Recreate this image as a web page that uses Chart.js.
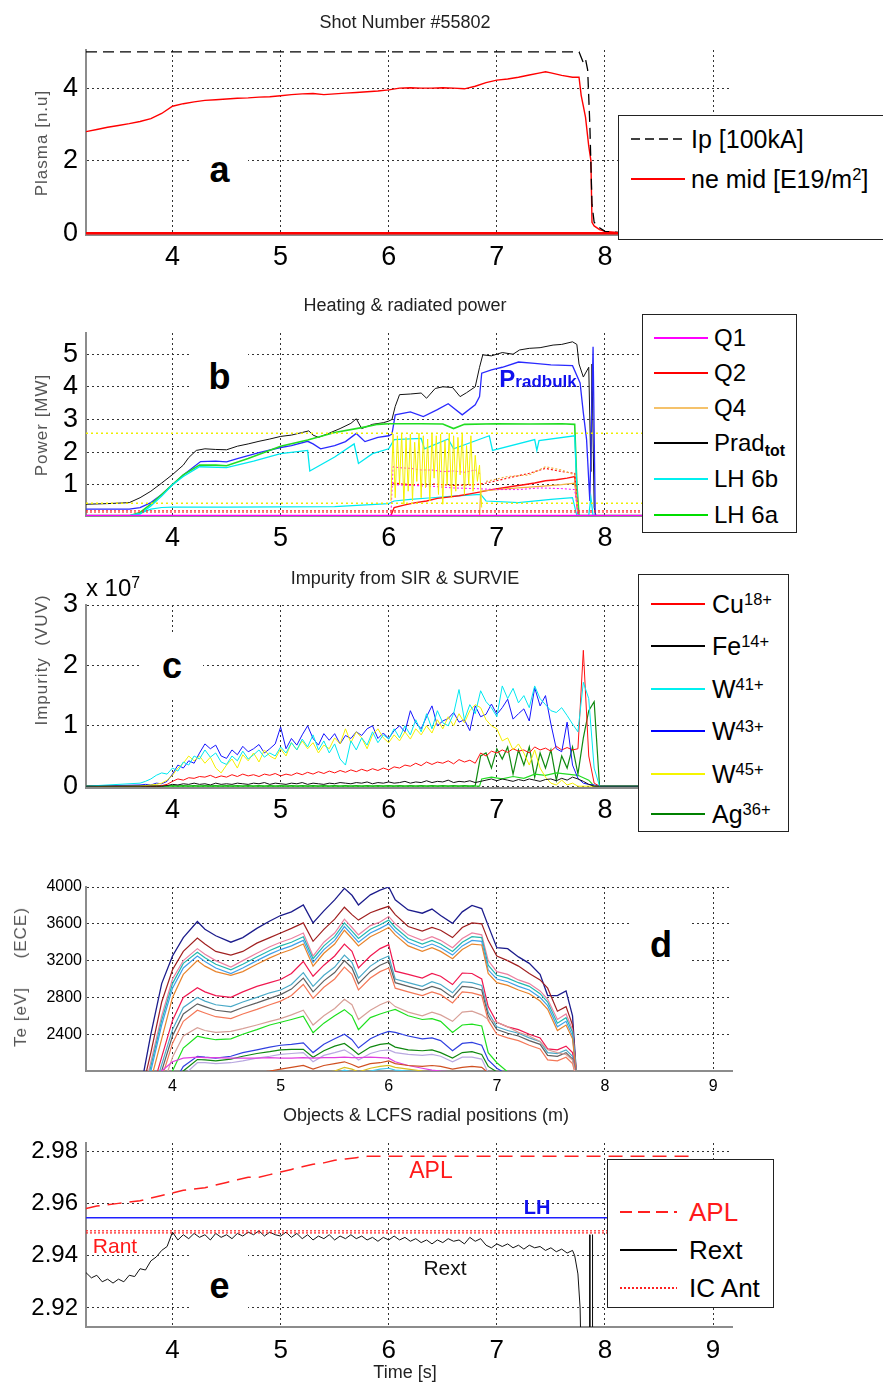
<!DOCTYPE html>
<html>
<head>
<meta charset="utf-8">
<title>Shot Number #55802</title>
<script src="https://cdn.jsdelivr.net/npm/chart.js@4.4.1/dist/chart.umd.min.js"></script>
<style>
  body { margin: 0; background: #fff; }
  #page { position: relative; width: 883px; height: 1385px; overflow: hidden; font-family: 'Liberation Sans', Arial, sans-serif; }
  #page canvas { position: absolute; left: 0; }
  .ttl { position: absolute; transform: translate(-50%, -50%); font-size: 18px; color: #222; white-space: nowrap; }
  .yt { position: absolute; transform: translate(-50%, -50%) rotate(-90deg); font-size: 17px; color: #555; letter-spacing: 1px; white-space: pre; }
  .ann { position: absolute; transform: translate(-50%, -50%); white-space: nowrap; line-height: 1; }
  .box { position: absolute; background: #fff; display: flex; align-items: center; justify-content: center; font-weight: bold; font-size: 36px; }
  .legend { position: absolute; background: #fff; border: 1.5px solid #222; box-sizing: border-box; }
  .legend .lt { position: absolute; transform: translateY(-50%); white-space: nowrap; line-height: 1; }
  .legend svg { position: absolute; }
  .sup { position: relative; top: -0.5em; font-size: 0.66em; }
  .sub { position: relative; top: 0.3em; font-size: 0.66em; font-weight: bold; }
</style>
</head>
<body>
<div id="page">
  <canvas id="chartA"></canvas>
  <canvas id="chartB"></canvas>
  <canvas id="chartC"></canvas>
  <canvas id="chartD"></canvas>
  <canvas id="chartE"></canvas>

  <!-- panel titles -->
  <div class="ttl" style="left:405px;top:22px">Shot Number #55802</div>
  <div class="ttl" style="left:405px;top:305px">Heating &amp; radiated power</div>
  <div class="ttl" style="left:405px;top:578px">Impurity from SIR &amp; SURVIE</div>
  <div class="ttl" style="left:426px;top:1115px">Objects &amp; LCFS radial positions (m)</div>
  <div class="ttl" style="left:405px;top:1372px">Time [s]</div>

  <!-- y axis titles -->
  <div class="yt" style="left:42px;top:143px">Plasma [n.u]</div>
  <div class="yt" style="left:42px;top:425px">Power [MW]</div>
  <div class="yt" style="left:42px;top:660px">Impurity  (VUV)</div>
  <div class="yt" style="left:21px;top:977px">Te [eV]     (ECE)</div>

  <div class="ann" style="left:113px;top:588px;font-size:24px">x 10<span class="sup">7</span></div>

  <!-- panel letters -->
  <div class="box" style="left:191px;top:140px;width:57px;height:60px">a</div>
  <div class="box" style="left:191px;top:350px;width:57px;height:54px">b</div>
  <div class="box" style="left:141px;top:632px;width:62px;height:68px">c</div>
  <div class="box" style="left:630px;top:915px;width:62px;height:60px">d</div>
  <div class="box" style="left:191px;top:1252px;width:57px;height:68px">e</div>

  <!-- in-plot labels -->
  <div class="ann" style="left:538px;top:379px;color:#1010ee;font-weight:bold"><span style="font-size:24px">P</span><span style="font-size:17px">radbulk</span></div>
  <div class="ann" style="left:431px;top:1170px;color:#ff1a1a;font-size:23px">APL</div>
  <div class="ann" style="left:537px;top:1207px;color:#1010ee;font-size:20px;font-weight:bold">LH</div>
  <div class="ann" style="left:115px;top:1245px;color:#ff1a1a;font-size:21px">Rant</div>
  <div class="ann" style="left:445px;top:1267px;color:#111;font-size:21px">Rext</div>
</div>

<script>
// ---------- shared axis ----------
const xTicks = [4, 5, 6, 7, 8, 9];

// ---------- panel a : plasma ----------
const tIp = [3.2, 7.76, 7.78, 7.8, 7.82, 7.84, 7.86, 7.88, 7.9, 7.95, 8.0, 8.2];
const ip  = [5, 5, 4.85, 4.7, 4.8, 4.5, 3.0, 0.8, 0.3, 0.15, 0.05, 0];
const tNe = [3.2, 3.3, 3.4, 3.5, 3.6, 3.7, 3.8, 3.9, 4.0, 4.1, 4.2, 4.3, 4.4, 4.5, 4.6, 4.7, 4.8, 4.9, 5.0, 5.1,
             5.2, 5.3, 5.4, 5.5, 5.6, 5.7, 5.8, 5.9, 6.0, 6.1, 6.2, 6.3, 6.4, 6.5, 6.6, 6.7, 6.8, 6.9, 7.0, 7.1,
             7.2, 7.3, 7.4, 7.45, 7.5, 7.6, 7.7, 7.76, 7.78, 7.8, 7.82, 7.85, 7.87, 7.88, 7.9, 7.95, 8.0, 8.2];
const neMid = [2.8, 2.86, 2.92, 2.97, 3.02, 3.08, 3.16, 3.3, 3.5, 3.57, 3.62, 3.66, 3.68, 3.7, 3.72, 3.73, 3.75, 3.76, 3.79, 3.82,
               3.84, 3.85, 3.82, 3.84, 3.86, 3.88, 3.9, 3.92, 3.95, 4.0, 4.01, 4.0, 4.0, 4.01, 4.0, 3.98, 4.05, 4.15, 4.22, 4.25,
               4.3, 4.36, 4.42, 4.45, 4.42, 4.35, 4.3, 4.3, 3.8, 3.5, 3.2, 2.4, 2.0, 0.3, 0.2, 0.1, 0.05, 0];
const tBaseA = [3.2, 8.3];
const baseA  = [0, 0];
const yTicksA = [0, 2, 4];

// ---------- panel b : heating & radiated power ----------
const tPrad = [3.2, 3.4, 3.6, 3.7, 3.8, 3.9, 4.0, 4.1, 4.15, 4.22, 4.3, 4.4, 4.5, 4.6, 4.7, 4.8, 4.9, 5.0, 5.1, 5.2,
               5.26, 5.3, 5.35, 5.45, 5.55, 5.65, 5.7, 5.75, 5.85, 5.95, 6.0, 6.03, 6.06, 6.1, 6.2, 6.3, 6.35, 6.43, 6.5, 6.59,
               6.66, 6.72, 6.8, 6.84, 6.87, 6.95, 7.05, 7.15, 7.21, 7.3, 7.4, 7.52, 7.6, 7.7, 7.74, 7.76, 7.8, 7.85, 7.87, 7.88,
               7.9, 7.92];
const pradTot = [0.4, 0.42, 0.45, 0.6, 0.8, 1.05, 1.31, 1.6, 1.83, 2.05, 2.1, 2.08, 2.07, 2.18, 2.25, 2.33, 2.4, 2.48, 2.52, 2.6,
                 2.65, 2.52, 2.45, 2.58, 2.72, 2.88, 3.02, 2.72, 2.85, 2.9, 2.95, 3.0, 3.4, 3.76, 3.78, 3.81, 3.65, 3.95, 4.0, 3.98,
                 3.7, 3.82, 4.0, 4.6, 4.98, 4.95, 5.05, 5.0, 5.13, 5.18, 5.2, 5.28, 5.3, 5.38, 5.3, 4.7, 4.3, 4.6, 1.4, 4.7,
                 0.3, 0];
const tBulk = [3.2, 3.6, 3.7, 3.8, 3.9, 4.0, 4.1, 4.26, 4.4, 4.5, 4.6, 4.8, 5.0, 5.1, 5.25, 5.3, 5.37, 5.5, 5.6, 5.7,
               5.78, 5.9, 6.0, 6.03, 6.06, 6.2, 6.32, 6.45, 6.55, 6.68, 6.8, 6.84, 6.86, 6.95, 7.05, 7.2, 7.35, 7.5, 7.7, 7.77,
               7.8, 7.83, 7.86, 7.89, 7.91];
const pradBulk = [0.25, 0.25, 0.3, 0.45, 0.7, 1.0, 1.3, 1.71, 1.72, 1.7, 1.8, 1.98, 2.14, 2.2, 2.33, 2.25, 2.1, 2.2, 2.32, 2.57,
                  2.32, 2.45, 2.5, 2.55, 3.14, 3.23, 3.09, 3.3, 3.48, 3.14, 3.45, 3.7, 4.42, 4.52, 4.6, 4.76, 4.72, 4.67, 4.65, 4.12,
                  3.2, 2.38, 0.5, 5.23, 0.05];
const tLh6a = [3.2, 3.6, 3.7, 3.8, 3.9, 4.0, 4.1, 4.25, 4.4, 4.5, 4.7, 5.0, 5.25, 5.5, 5.75, 5.9, 6.0, 6.3, 6.5, 6.6,
               6.7, 7.0, 7.3, 7.6, 7.72, 7.74, 7.76, 8.6];
const lh6a = [0.05, 0.05, 0.15, 0.4, 0.7, 1.0, 1.3, 1.6, 1.6, 1.58, 1.8, 2.18, 2.37, 2.6, 2.75, 2.85, 2.87, 2.87, 2.86, 2.72,
              2.85, 2.87, 2.86, 2.87, 2.85, 1.0, 0.05, 0.05];
const tLh6b = [3.2, 3.6, 3.7, 3.8, 3.9, 4.0, 4.1, 4.25, 4.5, 4.75, 5.0, 5.25, 5.27, 5.5, 5.68, 5.72, 5.85, 6.0, 6.05, 6.3,
               6.33, 6.55, 6.6, 6.93, 6.96, 7.35, 7.37, 7.39, 7.72, 7.75, 7.85, 7.87, 7.89, 8.6];
const lh6b = [0.05, 0.05, 0.1, 0.35, 0.65, 1.0, 1.25, 1.55, 1.52, 1.72, 1.95, 2.05, 1.42, 1.85, 2.25, 1.65, 1.95, 2.1, 2.38, 2.42,
              2.1, 2.4, 2.1, 2.5, 2.05, 2.38, 2.05, 2.35, 2.5, 0.05, 0.05, 0.6, 0.05, 0.05];
const tLhLow = [3.6, 3.7, 3.8, 3.9, 4.0, 4.5, 5.0, 5.5, 6.0, 6.05, 6.2, 6.4, 6.6, 6.85, 6.9, 7.2, 7.5, 7.7, 7.74];
const lhLow  = [0.05, 0.12, 0.25, 0.3, 0.31, 0.31, 0.32, 0.33, 0.42, 0.5, 0.55, 0.6, 0.65, 0.7, 0.5, 0.45, 0.55, 0.6, 0.05];
const tYel = [6.02, 6.04, 6.06, 6.08, 6.10, 6.12, 6.14, 6.16, 6.18, 6.20, 6.22, 6.24, 6.26, 6.28, 6.30, 6.32, 6.34, 6.36, 6.38, 6.40,
              6.42, 6.44, 6.46, 6.48, 6.50, 6.52, 6.54, 6.56, 6.58, 6.60, 6.62, 6.64, 6.66, 6.68, 6.70, 6.72, 6.74, 6.76, 6.78, 6.80,
              6.82, 6.84, 6.86];
const yelOsc = [0.5, 2.55, 0.6, 2.5, 1.0, 2.58, 0.4, 2.45, 0.8, 2.55, 0.5, 2.3, 1.1, 2.58, 0.6, 2.5, 0.9, 2.4, 0.5, 2.58,
                1.2, 2.5, 0.7, 2.55, 0.4, 2.35, 1.0, 2.58, 0.6, 2.5, 0.8, 2.45, 1.3, 2.58, 0.7, 2.2, 1.0, 2.5, 0.8, 1.9,
                1.1, 1.6, 0.3];
const tRef = [3.2, 8.6];
const yelHi = [2.58, 2.58];
const yelLo = [0.43, 0.43];
const redRef1 = [0.2, 0.2];
const redRef2 = [0.16, 0.16];
const magBase = [0.05, 0.05];
const tQ1Up = [6.02, 6.04, 6.1, 6.2, 6.3, 6.4, 6.5, 6.6, 6.7, 6.8, 6.86];
const q1Up  = [0.05, 1.55, 1.52, 1.5, 1.45, 1.45, 1.4, 1.42, 1.38, 1.45, 1.3];
const tQ1Low = [6.04, 6.2, 6.4, 6.6, 6.8, 7.0, 7.2, 7.4, 7.6, 7.72, 7.75];
const q1Low  = [1.0, 0.98, 0.95, 0.9, 0.88, 0.85, 0.85, 0.9, 0.88, 0.85, 0.1];
const tQ2 = [6.02, 6.05, 6.15, 6.25, 6.35, 6.45, 6.55, 6.65, 6.75, 6.85, 6.95, 7.05, 7.15, 7.25, 7.35, 7.45, 7.55, 7.65, 7.72, 7.75];
const q2  = [0.05, 0.3, 0.38, 0.45, 0.5, 0.58, 0.62, 0.66, 0.72, 0.78, 0.85, 0.9, 0.95, 1.0, 1.05, 1.12, 1.15, 1.2, 1.25, 0.1];
const tQ2Up = [6.04, 6.2, 6.4, 6.6, 6.8, 6.9, 7.1, 7.3, 7.45, 7.6, 7.72, 7.75];
const q2Up  = [1.05, 1.0, 1.02, 0.98, 1.0, 1.05, 1.2, 1.35, 1.5, 1.4, 1.35, 0.1];
const tQ4 = [6.84, 6.85, 7.0, 7.2, 7.4, 7.6, 7.72, 7.75];
const q4  = [0.02, 0.8, 0.85, 0.9, 0.95, 1.0, 1.05, 0.1];
const tQ4Up = [6.9, 7.1, 7.3, 7.45, 7.6, 7.72, 7.75];
const q4Up  = [1.1, 1.25, 1.3, 1.55, 1.45, 1.3, 0.1];
const yTicksB = [1, 2, 3, 4, 5];

// ---------- panel c : impurities (x 1e7) ----------
const tC = [3.2, 3.7, 3.75, 3.8, 3.85, 3.9, 3.95,
            4.0, 4.05, 4.1, 4.15, 4.2, 4.25, 4.3, 4.35, 4.4, 4.45,
            4.5, 4.55, 4.6, 4.65, 4.7, 4.75, 4.8, 4.85, 4.9, 4.95,
            5.0, 5.05, 5.1, 5.15, 5.2, 5.25, 5.3, 5.35, 5.4, 5.45,
            5.5, 5.55, 5.6, 5.65, 5.7, 5.75, 5.8, 5.85, 5.9, 5.95,
            6.0, 6.05, 6.1, 6.15, 6.2, 6.25, 6.3, 6.35, 6.4, 6.45,
            6.5, 6.55, 6.6, 6.65, 6.7, 6.75, 6.8, 6.85, 6.9, 6.95,
            7.0, 7.05, 7.1, 7.15, 7.2, 7.25, 7.3, 7.35, 7.4, 7.45,
            7.5, 7.55, 7.6, 7.65, 7.7, 7.75, 7.8, 7.85, 7.9, 7.95, 8.55];
const w43 = [0, 0.02, 0.03, 0.02, 0.05, 0.04, 0.08,
             0.2, 0.35, 0.3, 0.42, 0.38, 0.55, 0.7, 0.62, 0.68, 0.5,
             0.46, 0.6, 0.52, 0.66, 0.57, 0.62, 0.69, 0.55, 0.62, 0.7,
             0.98, 0.62, 0.79, 0.68, 0.85, 1.0, 0.79, 0.68, 0.87, 0.76,
             0.87, 0.7, 0.84, 0.79, 0.9, 0.84, 0.95, 1.0, 0.79, 0.88,
             0.79, 0.92, 1.0, 0.9, 1.25, 1.05, 0.95, 1.15, 1.33, 1.0,
             1.08, 1.12, 1.22, 1.06, 1.1, 0.92, 1.33, 1.15, 1.19, 1.36,
             1.19, 1.3, 1.44, 1.11, 1.2, 1.28, 1.08, 1.63, 1.33, 1.5,
             1.03, 0.62, 0.57, 1.06, 0.35, 0.13, 0.05, 0.03, 0.02, 0, 0];
const w41 = [0, 0.05, 0.08, 0.12, 0.18, 0.22, 0.2,
             0.3, 0.25, 0.4, 0.35, 0.5, 0.45, 0.6, 0.48, 0.55, 0.4,
             0.36, 0.5, 0.42, 0.58, 0.45, 0.52, 0.6, 0.48, 0.55, 0.5,
             0.65, 0.55, 0.72, 0.6, 0.78, 0.65, 0.85, 0.6, 0.75, 0.55,
             0.7, 0.45, 0.35, 0.75, 0.6, 0.8, 0.68, 0.9, 0.72, 0.85,
             0.78, 0.95, 0.8, 1.0, 0.85, 1.1, 0.9, 1.2, 0.95, 1.25,
             1.05, 1.0, 1.2, 1.6, 1.1, 1.35, 1.2, 1.58, 1.4, 1.3,
             1.15, 1.66, 1.45, 1.62, 1.38, 1.5, 1.3, 1.66, 1.45, 1.35,
             1.25, 1.22, 1.3, 1.17, 1.03, 0.9, 1.72, 1.45, 0.3, 0, 0];
const w45 = [0, 0, 0.01, 0.02, 0.03, 0.05, 0.1,
             0.18, 0.3, 0.38, 0.5, 0.42, 0.5, 0.38, 0.48, 0.3, 0.22,
             0.35, 0.45, 0.3, 0.52, 0.42, 0.55, 0.4, 0.6, 0.5, 0.45,
             0.62, 0.5, 0.72, 0.6, 0.75, 0.62, 0.72, 0.55, 0.68, 0.62,
             0.8, 0.7, 0.95, 0.72, 0.9, 0.8, 0.62, 0.85, 0.95, 0.8,
             0.72, 0.85, 0.75, 0.9, 0.78, 0.95, 0.85, 1.0, 0.88, 1.1,
             0.95, 1.15, 1.0, 1.2, 1.05, 1.25, 1.35, 1.3, 1.1, 1.0,
             0.95, 0.75, 0.8, 0.6, 0.7, 0.55, 0.35, 0.6, 0.3, 0.15,
             0.05, 0.02, 0.1, 0.02, 0.05, 0, 0, 0, 0, 0, 0];
const cu18 = [0, 0, 0, 0, 0, 0.01, 0.03,
              0.08, 0.12, 0.1, 0.14, 0.13, 0.16, 0.15, 0.18, 0.14, 0.17,
              0.15, 0.19, 0.16, 0.2, 0.17, 0.19, 0.16, 0.2, 0.18, 0.21,
              0.17, 0.2, 0.18, 0.22, 0.19, 0.23, 0.2, 0.24, 0.21, 0.25,
              0.22, 0.26, 0.23, 0.27, 0.24, 0.28, 0.25, 0.29, 0.26, 0.3,
              0.27, 0.32, 0.3, 0.35, 0.33, 0.38, 0.34, 0.4, 0.36, 0.4,
              0.38, 0.42, 0.37, 0.44, 0.4, 0.43, 0.38, 0.55, 0.5, 0.58,
              0.55, 0.6, 0.56, 0.62, 0.58, 0.6, 0.55, 0.65, 0.6, 0.63,
              0.58, 0.66, 0.6, 0.64, 0.6, 0.62, 2.25, 0.5, 0.05, 0, 0];
const fe14 = [0, 0, 0, 0, 0, 0, 0.01,
              0.03, 0.02, 0.04, 0.03, 0.05, 0.03, 0.04, 0.02, 0.05, 0.03,
              0.04, 0.03, 0.05, 0.04, 0.03, 0.05, 0.04, 0.06, 0.03, 0.05,
              0.04, 0.03, 0.05, 0.04, 0.06, 0.03, 0.05, 0.04, 0.03, 0.05,
              0.04, 0.06, 0.05, 0.04, 0.06, 0.05, 0.07, 0.04, 0.06, 0.05,
              0.07, 0.05, 0.06, 0.08, 0.05, 0.07, 0.06, 0.09, 0.06, 0.08,
              0.07, 0.1, 0.06, 0.08, 0.07, 0.09, 0.06, 0.08, 0.1, 0.12,
              0.09, 0.12, 0.1, 0.08, 0.11, 0.09, 0.12, 0.1, 0.08, 0.11,
              0.12, 0.09, 0.13, 0.1, 0.15, 0.12, 0.08, 0.03, 0, 0, 0];
const ag36 = [0, 0, 0, 0, 0, 0, 0,
              0.01, 0, 0.01, 0, 0.01, 0, 0.01, 0, 0.01, 0,
              0.01, 0, 0.01, 0, 0.01, 0, 0.01, 0, 0.01, 0,
              0.01, 0, 0.01, 0, 0.01, 0, 0.01, 0, 0.01, 0,
              0.01, 0, 0.01, 0, 0.01, 0, 0.01, 0, 0.01, 0,
              0.01, 0, 0.01, 0, 0.01, 0, 0.01, 0, 0.01, 0,
              0.01, 0, 0.01, 0, 0.01, 0, 0.01, 0.5, 0.55, 0.3,
              0.62, 0.45, 0.65, 0.2, 0.6, 0.35, 0.65, 0.15, 0.55, 0.3,
              0.6, 0.1, 0.5, 0.3, 0.65, 0.2, 0.8, 1.25, 1.4, 0, 0];
const tLime = [3.2, 6.84, 6.86, 6.95, 7.05, 7.15, 7.25, 7.35, 7.45, 7.55, 7.65, 7.75, 7.85, 7.9, 8.55];
const lime  = [0, 0, 0.12, 0.15, 0.12, 0.16, 0.13, 0.2, 0.18, 0.22, 0.2, 0.18, 0.1, 0, 0];
const yTicksC = [0, 1, 2, 3];

// ---------- panel d : ECE electron temperature ----------
const tD = [3.72, 3.8, 3.9, 4.0, 4.1, 4.23, 4.3, 4.4, 4.54, 4.65,
            4.78, 4.9, 5.0, 5.1, 5.21, 5.3, 5.4, 5.5, 5.59, 5.66,
            5.72, 5.83, 5.92, 6.0, 6.06, 6.18, 6.31, 6.4, 6.48, 6.59,
            6.68, 6.77, 6.86, 6.92, 7.0, 7.1, 7.2, 7.3, 7.4, 7.47,
            7.56, 7.64, 7.7, 7.74];
const teNavy = [1900, 2400, 2950, 3250, 3450, 3625, 3540, 3470, 3400, 3450,
                3550, 3630, 3690, 3730, 3805, 3610, 3740, 3860, 3985, 3910,
                3805, 3915, 3965, 4000, 3860, 3750, 3715, 3760, 3690, 3605,
                3730, 3800, 3765, 3580, 3340, 3330, 3240, 3170, 3050, 2820,
                2820, 2870, 2600, 1900];
const teBrown = [1800, 2200, 2750, 3100, 3300, 3445, 3380, 3300, 3260, 3300,
                 3390, 3450, 3500, 3550, 3610, 3410, 3540, 3650, 3780, 3700,
                 3640, 3720, 3760, 3790, 3700, 3570, 3520, 3560, 3530, 3450,
                 3560, 3610, 3600, 3420, 3250, 3200, 3140, 3060, 2990, 2900,
                 2650, 2700, 2500, 1900];
const tePink = [1700, 2100, 2600, 3000, 3200, 3330, 3270, 3200, 3130, 3200,
                3280, 3350, 3400, 3440, 3500, 3250, 3400, 3500, 3650, 3560,
                3480, 3580, 3620, 3680, 3600, 3480, 3420, 3460, 3420, 3340,
                3440, 3500, 3480, 3200, 3080, 3050, 2990, 2950, 2870, 2780,
                2560, 2620, 2450, 1900];
const teTeal = [1650, 2050, 2550, 2950, 3170, 3290, 3230, 3160, 3100, 3160,
                3240, 3310, 3360, 3400, 3460, 3220, 3360, 3460, 3610, 3520,
                3440, 3540, 3590, 3640, 3560, 3440, 3380, 3420, 3380, 3300,
                3400, 3460, 3450, 3150, 3040, 3010, 2960, 2920, 2840, 2750,
                2520, 2580, 2420, 1900];
const teSky = [1600, 2000, 2500, 2900, 3120, 3250, 3190, 3120, 3060, 3120,
               3200, 3270, 3320, 3360, 3420, 3180, 3320, 3420, 3570, 3480,
               3400, 3500, 3550, 3600, 3520, 3400, 3340, 3380, 3340, 3260,
               3360, 3420, 3410, 3100, 3000, 2970, 2920, 2880, 2800, 2710,
               2480, 2540, 2380, 1900];
const teOrange = [1500, 1900, 2350, 2800, 3050, 3200, 3140, 3080, 3040, 3080,
                  3160, 3230, 3280, 3320, 3380, 3140, 3280, 3380, 3530, 3440,
                  3360, 3460, 3510, 3560, 3480, 3360, 3300, 3340, 3300, 3220,
                  3320, 3380, 3370, 3060, 2960, 2930, 2880, 2840, 2760, 2670,
                  2440, 2500, 2350, 1900];
const teCrimson = [1450, 1750, 2150, 2550, 2800, 2905, 2860, 2820, 2800, 2860,
                   2920, 2960, 2995, 3060, 3190, 3030, 3150, 3250, 3380, 3300,
                   3120, 3250, 3330, 3373, 3085, 3050, 3010, 3060, 3030, 2940,
                   3065, 3060, 3000, 2700, 2530, 2480, 2450, 2400, 2360, 2240,
                   2230, 2270, 2200, 1900];
const teSteel = [1400, 1680, 2070, 2450, 2690, 2800, 2760, 2720, 2700, 2750,
                 2800, 2850, 2880, 2940, 3070, 2920, 3040, 3130, 3260, 3180,
                 3010, 3140, 3210, 3250, 3000, 2960, 2920, 2970, 2940, 2850,
                 2970, 2960, 2930, 2640, 2480, 2440, 2410, 2360, 2320, 2200,
                 2190, 2230, 2160, 1900];
const teGray = [1350, 1620, 2000, 2380, 2620, 2730, 2700, 2660, 2640, 2690,
                2740, 2790, 2830, 2890, 3010, 2860, 2980, 3070, 3200, 3120,
                2950, 3080, 3150, 3190, 2960, 2920, 2880, 2920, 2890, 2800,
                2920, 2910, 2880, 2600, 2450, 2410, 2380, 2330, 2290, 2170,
                2160, 2200, 2130, 1900];
const teSalmon = [1300, 1560, 1920, 2300, 2540, 2660, 2630, 2590, 2570, 2620,
                  2670, 2720, 2760, 2820, 2940, 2790, 2910, 3000, 3130, 3050,
                  2880, 3010, 3080, 3120, 2900, 2860, 2820, 2860, 2830, 2740,
                  2860, 2850, 2820, 2550, 2400, 2360, 2330, 2280, 2240, 2120,
                  2110, 2150, 2080, 1900];
const teRosy = [1200, 1450, 1800, 2150, 2380, 2470, 2440, 2420, 2430, 2460,
                2500, 2540, 2570, 2610, 2660, 2500, 2600, 2680, 2780, 2720,
                2560, 2660, 2720, 2760, 2700, 2640, 2600, 2640, 2610, 2540,
                2640, 2650, 2610, 2560, 2530, 2480, 2420, 2380, 2320, 2230,
                2200, 2180, 2120, 1900];
const teGreen = [1100, 1300, 1650, 2000, 2250, 2378, 2360, 2340, 2350, 2400,
                 2450, 2500, 2530, 2560, 2595, 2415, 2520, 2600, 2667, 2600,
                 2450, 2580, 2620, 2650, 2670, 2600, 2560, 2570, 2540, 2420,
                 2500, 2510, 2490, 2200, 2090, 1990, 1950, 1920, 1900, 1900,
                 1900, 1900, 1900, 1900];
const teBlue = [1000, 1200, 1500, 1850, 2050, 2160, 2150, 2140, 2160, 2200,
                2230, 2260, 2280, 2290, 2305, 2200, 2290, 2350, 2400, 2340,
                2250, 2350, 2400, 2430, 2420, 2380, 2350, 2360, 2330, 2220,
                2300, 2310, 2280, 2120, 2030, 1960, 1950, 1930, 1900, 1900,
                1900, 1900, 1900, 1900];
const teDkGreen = [950, 1150, 1450, 1800, 2000, 2125, 2120, 2110, 2130, 2160,
                   2190, 2210, 2230, 2235, 2235, 2150, 2220, 2270, 2300, 2240,
                   2180, 2260, 2290, 2300, 2260, 2230, 2220, 2230, 2200, 2140,
                   2200, 2210, 2180, 2050, 1990, 1950, 1920, 1900, 1900, 1900,
                   1900, 1900, 1900, 1900];
const teLav = [900, 1100, 1400, 1750, 1950, 2090, 2090, 2080, 2090, 2110,
               2140, 2160, 2180, 2190, 2200, 2100, 2170, 2200, 2230, 2180,
               2120, 2190, 2220, 2230, 2200, 2180, 2170, 2180, 2160, 2100,
               2150, 2150, 2130, 1980, 1950, 1920, 1900, 1900, 1900, 1900,
               1900, 1900, 1900, 1900];
const teMag = [1500, 1800, 2000, 2100, 2140, 2150, 2145, 2145, 2140, 2140,
               2140, 2145, 2140, 2140, 2145, 2140, 2145, 2145, 2150, 2145,
               2145, 2150, 2145, 2140, 2100, 2060, 2030, 2010, 2000, 1990,
               1990, 1980, 1970, 1960, 1950, 1940, 1930, 1920, 1910, 1900,
               1900, 1900, 1900, 1900];
const teRust = [1800, 1850, 1880, 1900, 1920, 1930, 1930, 1940, 1950, 1960,
                1980, 2000, 2020, 2040, 2060, 2020, 2060, 2080, 2100, 2070,
                2040, 2080, 2090, 2110, 2080, 2060, 2050, 2060, 2050, 2020,
                2040, 2050, 2040, 1980, 1950, 1930, 1920, 1910, 1900, 1900,
                1900, 1900, 1900, 1900];
const teGold = [1800, 1820, 1840, 1860, 1880, 1900, 1900, 1910, 1910, 1920,
                1930, 1940, 1950, 1960, 1980, 1950, 1980, 2000, 2040, 2020,
                1990, 2030, 2050, 2060, 2040, 2020, 2000, 1990, 1980, 1960,
                1950, 1950, 1940, 1920, 1900, 1900, 1900, 1900, 1900, 1900,
                1900, 1900, 1900, 1900];
const teCyanLow = [1750, 1780, 1800, 1820, 1840, 1860, 1870, 1870, 1880, 1890,
                   1900, 1910, 1920, 1930, 1950, 1920, 1950, 1970, 2010, 1990,
                   1960, 2000, 2020, 2030, 2010, 2000, 1990, 1980, 1970, 1950,
                   1940, 1930, 1920, 1910, 1900, 1900, 1900, 1900, 1900, 1900,
                   1900, 1900, 1900, 1900];
const yTicksD = [2400, 2800, 3200, 3600, 4000];

// ---------- panel e : radial positions ----------
const tApl = [3.2, 3.3, 3.4, 3.5, 3.6, 3.7, 3.8, 3.9, 4.0, 4.1, 4.2, 4.3, 4.4, 4.5, 4.6, 4.7, 4.8, 4.9, 5.0, 5.1,
              5.2, 5.3, 5.4, 5.5, 5.6, 5.7, 5.8, 8.8];
const apl = [2.958, 2.959, 2.9595, 2.96, 2.9605, 2.961, 2.962, 2.963, 2.964, 2.965, 2.9655, 2.966, 2.967, 2.968, 2.969, 2.97, 2.97, 2.971, 2.972, 2.973,
             2.974, 2.975, 2.9755, 2.9765, 2.977, 2.9775, 2.978, 2.978];
const tRext = [3.2, 3.25, 3.3, 3.35, 3.4, 3.45, 3.5, 3.55, 3.6, 3.65,
               3.7, 3.75, 3.8, 3.85, 3.9, 3.95, 4.0, 4.05, 4.1, 4.15,
               4.2, 4.25, 4.3, 4.35, 4.4, 4.45, 4.5, 4.55, 4.6, 4.65,
               4.7, 4.75, 4.8, 4.85, 4.9, 4.95, 5.0, 5.05, 5.1, 5.15,
               5.2, 5.25, 5.3, 5.35, 5.4, 5.45, 5.5, 5.55, 5.6, 5.65,
               5.7, 5.75, 5.8, 5.85, 5.9, 5.95, 6.0, 6.05, 6.1, 6.15,
               6.2, 6.25, 6.3, 6.35, 6.4, 6.45, 6.5, 6.55, 6.6, 6.65,
               6.7, 6.75, 6.8, 6.85, 6.9, 6.95, 7.0, 7.05, 7.1, 7.15,
               7.2, 7.25, 7.3, 7.35, 7.4, 7.45, 7.5, 7.55, 7.6, 7.65,
               7.7, 7.72, 7.75, 7.77, 7.78];
const rext = [2.9335, 2.9315, 2.9325, 2.93, 2.931, 2.9295, 2.931, 2.93, 2.9325, 2.932,
              2.935, 2.9345, 2.938, 2.9395, 2.942, 2.9435, 2.949, 2.946, 2.948, 2.9465,
              2.9485, 2.947, 2.948, 2.946, 2.9485, 2.947, 2.948, 2.9465, 2.9485, 2.9475,
              2.949, 2.948, 2.9495, 2.9475, 2.949, 2.948, 2.9475, 2.949, 2.947, 2.9485,
              2.9465, 2.948, 2.946, 2.9475, 2.9465, 2.948, 2.946, 2.9475, 2.9465, 2.948,
              2.9465, 2.9475, 2.946, 2.947, 2.9455, 2.947, 2.946, 2.9475, 2.946, 2.947,
              2.9455, 2.9465, 2.945, 2.946, 2.9445, 2.946, 2.945, 2.9465, 2.9455, 2.946,
              2.9445, 2.947, 2.9455, 2.9465, 2.944, 2.943, 2.9445, 2.9435, 2.9445, 2.943,
              2.944, 2.9425, 2.944, 2.943, 2.9435, 2.942, 2.943, 2.9415, 2.9425, 2.941,
              2.942, 2.94, 2.933, 2.92, 2.9];
const tTail = [7.86, 7.86, 7.86, 7.885, 7.885];
const rextTail = [2.948, 2.9, null, 2.948, 2.9];
const tLH = [3.2, 8.1];
const lhPos = [2.9545, 2.9545];
const icAnt1 = [2.9495, 2.9495];
const icAnt2 = [2.9487, 2.9487];
const yTicksE = [2.92, 2.94, 2.96, 2.98];

// ---------- legends (page coordinates) ----------
const legendA = [
  { y: 138, html: 'Ip [100kA]', color: '#000', dash: '9,5', lw: 1.5 },
  { y: 178, html: 'ne mid [E19/m<span class="sup">2</span>]', color: '#ff0000', lw: 2 }
];
const legendB = [
  { y: 337, html: 'Q1', color: '#ff00ff' },
  { y: 372, html: 'Q2', color: '#ff0000' },
  { y: 407, html: 'Q4', color: '#f5c26b' },
  { y: 442, html: 'Prad<span class="sub">tot</span>', color: '#000' },
  { y: 478, html: 'LH 6b', color: '#00f0f0' },
  { y: 514, html: 'LH 6a', color: '#00dd00' }
];
const legendC = [
  { y: 603, html: 'Cu<span class="sup">18+</span>', color: '#ff0000' },
  { y: 645, html: 'Fe<span class="sup">14+</span>', color: '#000' },
  { y: 688, html: 'W<span class="sup">41+</span>', color: '#00f0f0' },
  { y: 730, html: 'W<span class="sup">43+</span>', color: '#0000ff' },
  { y: 773, html: 'W<span class="sup">45+</span>', color: '#f5f500' },
  { y: 813, html: 'Ag<span class="sup">36+</span>', color: '#008000' }
];
const legendE = [
  { y: 1211, html: 'APL', color: '#ff2020', dash: '12,6', tc: '#ff1a1a' },
  { y: 1249, html: 'Rext', color: '#000' },
  { y: 1287, html: 'IC Ant', color: '#ff2020', dash: '2,2' }
];

// ---------- helpers ----------
Chart.defaults.font.family = "'Liberation Sans', Arial, sans-serif";
Chart.defaults.color = '#000';

function pts(ts, vs) {
  return ts.map((t, i) => ({ x: t, y: vs[i] }));
}

function series(ts, vs, color, width, dash) {
  return {
    data: pts(ts, vs),
    borderColor: color,
    borderWidth: width || 1,
    borderDash: dash || [],
    pointRadius: 0,
    tension: 0,
    spanGaps: false,
    fill: false
  };
}

// plot area is always x 86..732; each canvas starts 20px above its plot area
const PAD_TOP = 20;
function panel(id, plotTop, plotBottom, xAxisH, y, datasets) {
  const cv = document.getElementById(id);
  const top = plotTop - PAD_TOP;
  const h = plotBottom - top + xAxisH;
  cv.width = 760;
  cv.height = h;
  cv.style.top = top + 'px';

  new Chart(cv, {
    type: 'line',
    data: { datasets },
    options: {
      responsive: false,
      animation: false,
      events: [],
      layout: { padding: { top: PAD_TOP, right: 28, left: 0, bottom: 0 } },
      plugins: { legend: { display: false }, tooltip: { enabled: false } },
      scales: {
        x: {
          type: 'linear', bounds: 'data', min: 3.2, max: 9.175,
          afterBuildTicks: s => { s.ticks = xTicks.map(v => ({ value: v })); },
          // fixed axis height, and no extra room reserved for edge labels
          afterFit: s => { s.height = xAxisH; s.paddingLeft = 0; s.paddingRight = 0; },
          ticks: {
            autoSkip: false, maxRotation: 0, padding: y.xPad, color: '#000',
            font: { size: y.xFont },
            callback: v => (y.hide9 && v === 9) ? '' : String(v)
          },
          grid: { color: '#333', lineWidth: 1, drawTicks: false },
          border: { display: true, color: '#8c8c8c', width: 2, dash: [2, 3] }
        },
        y: {
          type: 'linear', bounds: 'data', min: y.min, max: y.max,
          afterBuildTicks: s => { s.ticks = y.ticks.map(v => ({ value: v })); },
          afterFit: s => { s.width = 86; s.paddingTop = 0; s.paddingBottom = 0; },
          ticks: {
            padding: y.yPad, color: '#000', font: { size: y.yFont },
            callback: y.fmt || (v => String(v))
          },
          grid: { color: '#333', lineWidth: 1, drawTicks: false },
          border: { display: true, color: '#8c8c8c', width: 2, dash: [2, 3] }
        }
      }
    }
  });
}

function addLegend(box, rows) {
  const el = document.createElement('div');
  el.className = 'legend';
  el.style.cssText = `left:${box.x}px;top:${box.y}px;width:${box.w}px;height:${box.h}px`;
  const len = box.lx1 - box.lx0;
  rows.forEach(r => {
    const dash = r.dash ? `stroke-dasharray="${r.dash}"` : '';
    el.insertAdjacentHTML('beforeend',
      `<svg style="left:${box.lx0 - box.x}px;top:${r.y - box.y - 5}px" width="${len}" height="10">` +
      `<line x1="0" y1="5" x2="${len}" y2="5" stroke="${r.color}" stroke-width="${r.lw || 2}" ${dash}/></svg>` +
      `<div class="lt" style="left:${box.tx - box.x}px;top:${r.y - box.y}px;font-size:${box.fs}px;color:${r.tc || '#000'}">${r.html}</div>`);
  });
  document.getElementById('page').appendChild(el);
}

// ---------- panel a ----------
panel('chartA', 50, 235, 45,
  { min: -0.05, max: 5.05, ticks: yTicksA, xFont: 27, yFont: 27, xPad: 6, yPad: 8, hide9: true },
  [
    series(tBaseA, baseA, '#ff0000', 2.5),
    series(tIp, ip, '#000', 1.3, [11, 6]),
    series(tNe, neMid, '#ff0000', 1.4)
  ]);

// ---------- panel b ----------
panel('chartB', 333, 516, 45,
  { min: 0.04, max: 5.65, ticks: yTicksB, xFont: 27, yFont: 27, xPad: 6, yPad: 8, hide9: true },
  [
    series(tRef, yelHi, '#eeee00', 1.5, [2, 3]),
    series(tRef, yelLo, '#eeee00', 1.5, [2, 3]),
    series(tRef, redRef1, '#ff2020', 1, [2, 2]),
    series(tRef, redRef2, '#ff2020', 1, [2, 2]),
    series(tRef, magBase, '#ff00ff', 2),
    series(tYel, yelOsc, '#f5f000', 1),
    series(tQ1Up, q1Up, '#ff00ff', 1, [2, 2]),
    series(tQ1Low, q1Low, '#ff00ff', 1, [2, 2]),
    series(tQ4, q4, '#f0b040', 1.2),
    series(tQ4Up, q4Up, '#f0b040', 1.2, [2, 2]),
    series(tQ2, q2, '#ff1010', 1.4),
    series(tQ2Up, q2Up, '#ff1010', 1.2, [2, 2]),
    series(tLhLow, lhLow, '#00e8f0', 1.2),
    series(tLh6b, lh6b, '#00e8f0', 1.3),
    series(tLh6a, lh6a, '#22dd22', 1.6),
    series(tBulk, pradBulk, '#2a2aff', 1.3),
    series(tPrad, pradTot, '#111', 1)
  ]);

// ---------- panel c ----------
panel('chartC', 605, 788, 45,
  { min: -0.03, max: 3, ticks: yTicksC, xFont: 27, yFont: 27, xPad: 6, yPad: 8, hide9: true },
  [
    series(tC, fe14, '#111', 1),
    series(tC, w41, '#00e8f0', 1),
    series(tC, w45, '#f5f000', 1),
    series(tC, w43, '#1515ff', 1),
    series(tC, cu18, '#ff1010', 1),
    series(tLime, lime, '#22dd22', 1.2),
    series(tC, ag36, '#108a10', 1.2)
  ]);

// ---------- panel d ----------
panel('chartD', 887, 1071, 30,
  { min: 2000, max: 4000, ticks: yTicksD, xFont: 16, yFont: 16, xPad: 6, yPad: 4, hide9: false },
  [
    series(tD, teCyanLow, '#40c8f0', 1.2),
    series(tD, teGold, '#d8c020', 1.2),
    series(tD, teRust, '#d05020', 1.2),
    series(tD, teMag, '#e040e0', 1.2),
    series(tD, teLav, '#b8a8e0', 1.2),
    series(tD, teDkGreen, '#108810', 1.2),
    series(tD, teBlue, '#3040e0', 1.2),
    series(tD, teGreen, '#1ee01e', 1.2),
    series(tD, teRosy, '#d8a098', 1.2),
    series(tD, teSalmon, '#f47858', 1.2),
    series(tD, teGray, '#606060', 1.2),
    series(tD, teSteel, '#4aaac8', 1.2),
    series(tD, teCrimson, '#f01850', 1.2),
    series(tD, teOrange, '#e8842c', 1.2),
    series(tD, teSky, '#40a0e8', 1.2),
    series(tD, teTeal, '#22b8b0', 1.2),
    series(tD, tePink, '#ec80a0', 1.2),
    series(tD, teBrown, '#a02020', 1.2),
    series(tD, teNavy, '#1c1c8c', 1.3)
  ]);

// ---------- panel e ----------
panel('chartE', 1143, 1327, 45,
  { min: 2.9127, max: 2.9831, ticks: yTicksE, xFont: 26, yFont: 24, xPad: 8, yPad: 8, hide9: false,
    fmt: v => v.toFixed(2) },
  [
    series(tLH, icAnt1, '#ff2020', 1.2, [2, 2]),
    series(tLH, icAnt2, '#ff2020', 1.2, [2, 2]),
    series(tLH, lhPos, '#2020ff', 1.4),
    series(tApl, apl, '#ff2020', 1.5, [14, 8]),
    series(tRext, rext, '#111', 1),
    series(tTail, rextTail, '#111', 1)
  ]);

// ---------- legends ----------
addLegend({ x: 618, y: 115, w: 290, h: 125, lx0: 630, lx1: 684, tx: 690, fs: 25 }, legendA);
addLegend({ x: 642, y: 314, w: 155, h: 219, lx0: 653, lx1: 707, tx: 713, fs: 24 }, legendB);
addLegend({ x: 638, y: 574, w: 151, h: 258, lx0: 650, lx1: 704, tx: 711, fs: 25 }, legendC);
addLegend({ x: 607, y: 1159, w: 167, h: 149, lx0: 619, lx1: 676, tx: 688, fs: 26 }, legendE);
</script>
</body>
</html>
